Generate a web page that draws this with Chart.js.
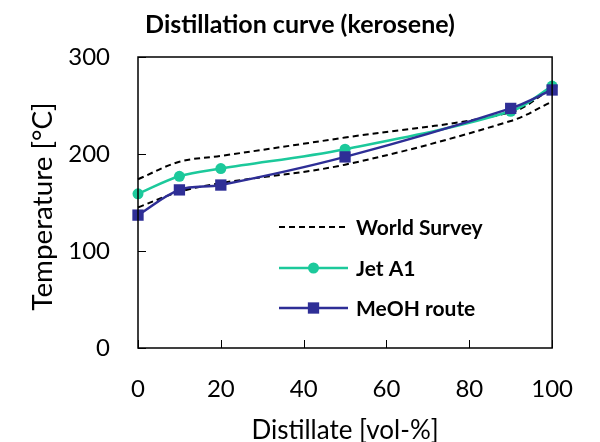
<!DOCTYPE html>
<html>
<head>
<meta charset="utf-8">
<script src="https://cdn.jsdelivr.net/npm/chart.js@4"></script>
<style>
  html, body { margin: 0; padding: 0; background: #fff; }
  #wrap { width: 600px; height: 442px; }
</style>
</head>
<body>
<div id="wrap"><canvas id="chart" width="600" height="442"></canvas></div>
<script>
const distillate = [0, 10, 20, 50, 90, 100]
const worldSurveyHigh = [174, 192, 198, 217, 243, 268]
const worldSurveyLow = [145, 161, 170, 189, 234, 254]
const jetA1 = [159, 177, 185, 205, 244, 270]
const meohRoute = [137, 163, 168, 197, 247, 266]

const xTicks = [0, 20, 40, 60, 80, 100]
const yTicks = [0, 100, 200, 300]
const yTitle = "Temperature [°C]"

const FONT = "Lato, 'Open Sans', sans-serif"
const GREEN = "#1cc99b"
const BLUE = "#2e2e96"

const points = (ys) => distillate.map((x, i) => ({ x, y: ys[i] }))

// legend drawn inside the plot: line sample + marker + bold label
const legendItems = [
  { dataset: 0, label: "World Survey" },
  { dataset: 2, label: "Jet A1" },
  { dataset: 3, label: "MeOH route" },
]

const framePlugin = {
  id: "frame",
  afterDraw(chart) {
    const { ctx, chartArea: a, scales } = chart
    ctx.save()
    ctx.strokeStyle = "#000"
    ctx.lineWidth = 1.5
    ctx.strokeRect(a.left, a.top, a.right - a.left, a.bottom - a.top)

    // inward tick marks
    ctx.lineWidth = 1
    ctx.beginPath()
    xTicks.forEach((v) => {
      const px = Math.round(scales.x.getPixelForValue(v)) + 0.5
      ctx.moveTo(px, a.bottom)
      ctx.lineTo(px, a.bottom - 8)
    })
    yTicks.forEach((v) => {
      const py = Math.round(scales.y.getPixelForValue(v)) + 0.5
      ctx.moveTo(a.left, py)
      ctx.lineTo(a.left + 8, py)
    })
    ctx.stroke()

    // y axis title, sized to span ~208px like the original
    ctx.save()
    ctx.font = "20px " + FONT
    const size = Math.min(28, 20 * 208 / ctx.measureText(yTitle).width)
    ctx.font = size.toFixed(1) + "px " + FONT
    ctx.translate(43, (a.top + a.bottom) / 2 + 4)
    ctx.rotate(-Math.PI / 2)
    ctx.fillStyle = "#000"
    ctx.textAlign = "center"
    ctx.textBaseline = "middle"
    ctx.fillText(yTitle, 0, 0)
    ctx.restore()

    // legend
    const x0 = 279, x1 = 348, rowY = [227, 268, 308]
    legendItems.forEach((item, i) => {
      const ds = chart.data.datasets[item.dataset]
      const y = rowY[i]
      ctx.beginPath()
      ctx.setLineDash(ds.borderDash || [])
      ctx.strokeStyle = ds.borderColor
      ctx.lineWidth = ds.borderWidth
      ctx.moveTo(x0, y)
      ctx.lineTo(x1, y)
      ctx.stroke()
      ctx.setLineDash([])
      if (ds.pointRadius > 0) {
        ctx.fillStyle = ds.pointBackgroundColor
        ctx.strokeStyle = ds.pointBorderColor
        Chart.helpers.drawPoint(ctx, {
          pointStyle: ds.pointStyle,
          radius: ds.pointRadius,
          rotation: 0,
          borderWidth: 0,
        }, (x0 + x1) / 2, y)
      }
      ctx.fillStyle = "#000"
      ctx.font = "bold 21px " + FONT
      ctx.textBaseline = "middle"
      ctx.textAlign = "left"
      ctx.fillText(item.label, 356, y + 1)
    })
    ctx.restore()
  },
}

new Chart(document.getElementById("chart"), {
  type: "line",
  data: {
    datasets: [
      {
        label: "World Survey",
        data: points(worldSurveyHigh),
        borderColor: "#000",
        borderWidth: 2,
        borderDash: [6, 4],
        pointRadius: 0,
        tension: 0.35,
        order: 3,
      },
      {
        label: "World Survey (low)",
        data: points(worldSurveyLow),
        borderColor: "#000",
        borderWidth: 2,
        borderDash: [6, 4],
        pointRadius: 0,
        tension: 0.35,
        order: 3,
      },
      {
        label: "Jet A1",
        data: points(jetA1),
        borderColor: GREEN,
        borderWidth: 2.5,
        pointStyle: "circle",
        pointRadius: 5.5,
        pointBackgroundColor: GREEN,
        pointBorderColor: GREEN,
        pointBorderWidth: 0,
        tension: 0.35,
        order: 2,
      },
      {
        label: "MeOH route",
        data: points(meohRoute),
        borderColor: BLUE,
        borderWidth: 2.5,
        pointStyle: "rect",
        pointRadius: 8,
        pointBackgroundColor: BLUE,
        pointBorderColor: BLUE,
        pointBorderWidth: 0,
        tension: 0.35,
        order: 1,
      },
    ],
  },
  options: {
    responsive: false,
    animation: false,
    clip: false,
    layout: { padding: { left: 42, right: 42, top: 0, bottom: 0 } },
    plugins: {
      legend: { display: false },
      tooltip: { enabled: false },
      title: {
        display: true,
        text: "Distillation curve (kerosene)",
        color: "#000",
        font: { family: FONT, size: 25, weight: "bold" },
        padding: { top: 10, bottom: 17 },
      },
    },
    scales: {
      x: {
        type: "linear",
        min: 0,
        max: 100,
        afterBuildTicks: (s) => { s.ticks = xTicks.map((v) => ({ value: v })) },
        afterFit: (s) => { s.height = 94 },
        grid: { display: false, drawTicks: false },
        border: { display: false },
        ticks: { color: "#000", font: { family: FONT, size: 24 }, padding: 27, maxRotation: 0 },
        title: {
          display: true,
          text: "Distillate [vol-%]",
          color: "#000",
          font: { family: FONT, size: 26 },
          padding: { top: 0, bottom: -4 },
        },
      },
      y: {
        min: 0,
        max: 300,
        afterBuildTicks: (s) => { s.ticks = yTicks.map((v) => ({ value: v })) },
        afterFit: (s) => { s.width = 96 },
        grid: { display: false, drawTicks: false },
        border: { display: false },
        ticks: { color: "#000", font: { family: FONT, size: 24 }, padding: 28 },
        title: { display: false },
      },
    },
  },
  plugins: [framePlugin],
})
</script>
</body>
</html>
